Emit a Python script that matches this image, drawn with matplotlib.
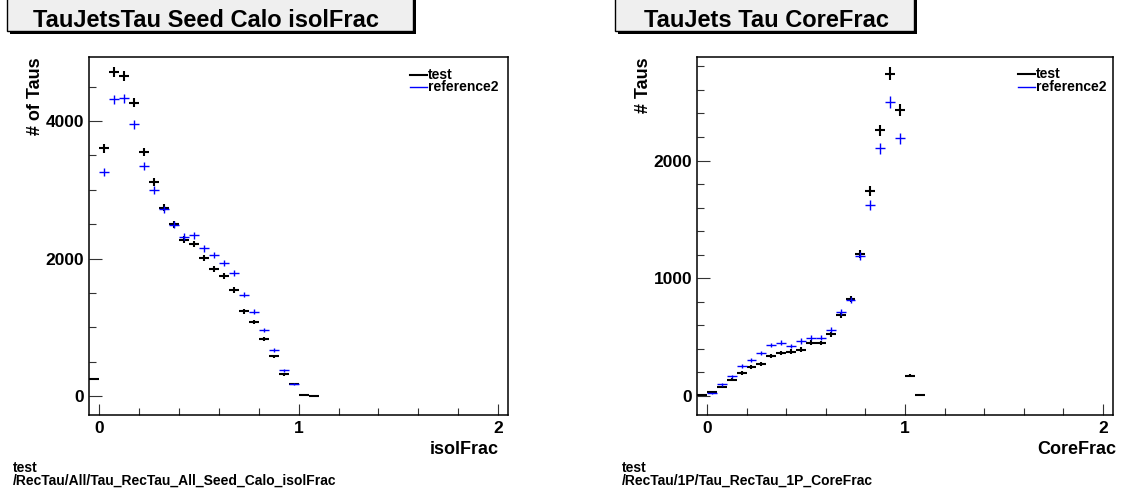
import numpy as np
import matplotlib
matplotlib.use("Agg")
import matplotlib.pyplot as plt
from matplotlib.patches import Rectangle
from matplotlib.lines import Line2D
from matplotlib.ticker import MultipleLocator

W, H = 1121, 491
plt.rcParams['font.family'] = ['Liberation Sans', 'DejaVu Sans']
plt.rcParams['font.weight'] = 'bold'

# ---- isolFrac (all taus, seed calo) ----
iso_test_centers = [-0.025, 0.025, 0.075, 0.125, 0.175, 0.225, 0.275, 0.325,
                    0.375, 0.425, 0.475, 0.525, 0.575, 0.625, 0.675, 0.725,
                    0.775, 0.825, 0.875, 0.925, 0.975, 1.025, 1.075]
iso_test = [250, 3600, 4710, 4655, 4265, 3550, 3115, 2740, 2500, 2275, 2215,
            2005, 1850, 1742, 1545, 1234, 1078, 829, 577, 317, 171, 19, 4]
iso_ref_centers = [0.025, 0.075, 0.125, 0.175, 0.225, 0.275, 0.325, 0.375,
                   0.425, 0.475, 0.525, 0.575, 0.625, 0.675, 0.725, 0.775,
                   0.825, 0.875, 0.925, 0.975]
iso_ref = [3255, 4317, 4332, 3953, 3347, 2993, 2715, 2490, 2318, 2335, 2147,
           2048, 1931, 1789, 1473, 1229, 966, 673, 376, 176]

# ---- CoreFrac (1-prong taus) ----
core_test_centers = [-0.025, 0.025, 0.075, 0.125, 0.175, 0.225, 0.275, 0.325,
                     0.375, 0.425, 0.475, 0.525, 0.575, 0.625, 0.675, 0.725,
                     0.775, 0.825, 0.875, 0.925, 0.975, 1.025, 1.075]
core_test = [5, 34, 77, 136, 195, 246, 274, 336, 362, 375, 393, 452, 449, 522,
             689, 822, 1206, 1742, 2256, 2739, 2431, 169, 3]
core_ref_centers = [0.025, 0.075, 0.125, 0.175, 0.225, 0.275, 0.325, 0.375,
                    0.425, 0.475, 0.525, 0.575, 0.625, 0.675, 0.725, 0.775,
                    0.825, 0.875, 0.925, 0.975]
core_ref = [20, 97, 167, 254, 308, 362, 432, 452, 424, 466, 495, 495, 562,
            711, 815, 1192, 1624, 2104, 2499, 2188]

bin_half = 0.025


def fx(x):
    return x / W


def fy(y):
    return 1 - y / H


fig = plt.figure(figsize=(W / 100, H / 100), dpi=100)
fig.patch.set_facecolor('white')


def make_axes(x0, x1, y0, y1):
    return fig.add_axes([fx(x0), fy(y1), (x1 - x0) / W, (y1 - y0) / H])


def style_axes(ax, ylim, ymajor, yminor):
    ax.set_xlim(-0.05, 2.05)
    ax.set_ylim(*ylim)
    ax.xaxis.set_major_locator(MultipleLocator(1))
    ax.xaxis.set_minor_locator(MultipleLocator(0.2))
    ax.yaxis.set_major_locator(MultipleLocator(ymajor))
    ax.yaxis.set_minor_locator(MultipleLocator(yminor))
    ax.tick_params(axis='both', which='both', direction='in', color='#333333',
                   width=0.8, labelsize=12.5)
    ax.tick_params(axis='x', which='major', length=8, pad=4.3)
    ax.tick_params(axis='x', which='minor', length=5)
    ax.tick_params(axis='y', which='major', length=9.5, pad=3.5)
    ax.tick_params(axis='y', which='minor', length=5)
    for lab in ax.get_xticklabels() + ax.get_yticklabels():
        lab.set_fontweight('bold')
    for sp in ax.spines.values():
        sp.set_linewidth(1.1)


def draw_hist(ax, xc, vals, color, lw, z):
    vals = np.asarray(vals, dtype=float)
    ax.errorbar(xc, vals, xerr=bin_half, yerr=np.sqrt(vals), fmt='none',
                ecolor=color, elinewidth=lw, capsize=0, zorder=z)


def title_box(x0, x1, text, tx):
    shadow = Rectangle((fx(x0 + 3), fy(34)), (x1 - x0) / W, 36 / H,
                       transform=fig.transFigure, facecolor='black',
                       edgecolor='black', lw=0)
    box = Rectangle((fx(x0), fy(31)), (x1 - x0) / W, 36 / H,
                    transform=fig.transFigure, facecolor='#efefef',
                    edgecolor='black', lw=1.0)
    fig.add_artist(shadow)
    fig.add_artist(box)
    fig.text(fx(tx), fy(27), text, ha='center', va='baseline',
             fontsize=17, fontweight='bold')


def legend(xl, y1, y2):
    fig.add_artist(Line2D([fx(xl), fx(xl + 17)], [fy(y1), fy(y1)],
                          transform=fig.transFigure, color='black', lw=1.5))
    fig.add_artist(Line2D([fx(xl), fx(xl + 17)], [fy(y2), fy(y2)],
                          transform=fig.transFigure, color='#0000ff', lw=1.0))
    fig.text(fx(xl + 18), fy(y1), 'test', ha='left', va='center',
             fontsize=10, fontweight='bold')
    fig.text(fx(xl + 18), fy(y2), 'reference2', ha='left', va='center',
             fontsize=10, fontweight='bold')


# Left pad: isolFrac
axL = make_axes(89.3, 508, 57, 415)
style_axes(axL, (-275, 4930), 2000, 500)
draw_hist(axL, iso_test_centers, iso_test, 'black', 1.5, 3)
draw_hist(axL, iso_ref_centers, iso_ref, '#0000ff', 1.0, 4)
title_box(6.5, 413, 'TauJetsTau Seed Calo isolFrac', 206)
legend(410, 75, 87)
fig.text(fx(35), fy(57), '# of Taus', rotation=90, ha='center', va='top',
         fontsize=13, fontweight='bold')
fig.text(fx(499), fy(454), 'isolFrac', ha='right', va='baseline',
         fontsize=13, fontweight='bold')
fig.text(fx(13), fy(472), 'test', ha='left', va='baseline',
         fontsize=10, fontweight='bold')
fig.text(fx(13), fy(485), '/RecTau/All/Tau_RecTau_All_Seed_Calo_isolFrac',
         ha='left', va='baseline', fontsize=10, fontweight='bold')

# Right pad: CoreFrac
axR = make_axes(697, 1113, 57, 415)
style_axes(axR, (-163, 2880), 1000, 200)
draw_hist(axR, core_test_centers, core_test, 'black', 1.5, 3)
draw_hist(axR, core_ref_centers, core_ref, '#0000ff', 1.0, 4)
title_box(615, 914, 'TauJets Tau CoreFrac', 767)
legend(1018, 74, 87)
fig.text(fx(643), fy(57), '# Taus', rotation=90, ha='center', va='top',
         fontsize=13, fontweight='bold')
fig.text(fx(1116), fy(454), 'CoreFrac', ha='right', va='baseline',
         fontsize=13, fontweight='bold')
fig.text(fx(622), fy(472), 'test', ha='left', va='baseline',
         fontsize=10, fontweight='bold')
fig.text(fx(622), fy(485), '/RecTau/1P/Tau_RecTau_1P_CoreFrac',
         ha='left', va='baseline', fontsize=10, fontweight='bold')

fig.savefig('out.png', dpi=100, facecolor='white')
